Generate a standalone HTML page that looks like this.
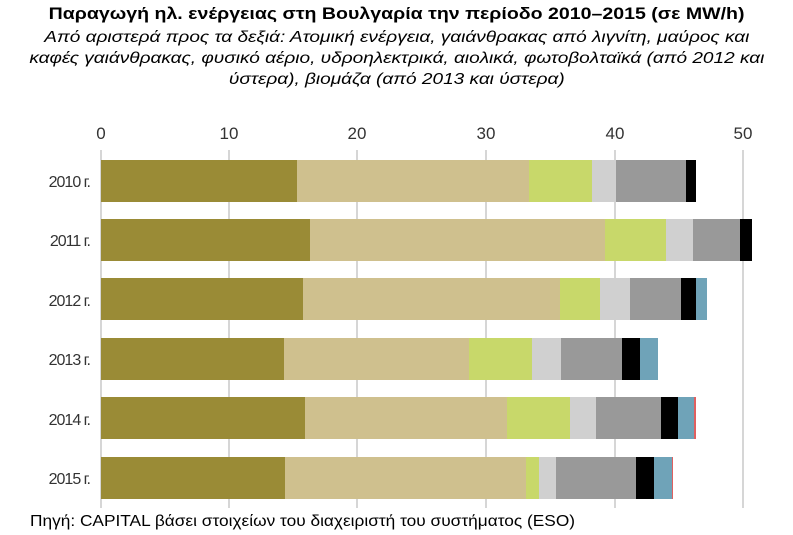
<html><head><style>
body{margin:0;background:#fff;width:793px;height:535px;overflow:hidden;position:relative;font-family:"Liberation Sans",sans-serif}
.t{position:absolute;left:0;width:793px;text-align:center;color:#000}
.t span{display:inline-block;transform-origin:center top}
</style></head><body>
<div class="t" style="top:4px;font-size:17px;font-weight:bold"><span style="transform:scaleX(1.15)">Παραγωγή ηλ. ενέργειας στη Βουλγαρία την περίοδο 2010–2015 (σε MW/h)</span></div>
<div class="t" style="top:27px;font-size:16px;font-style:italic;line-height:21px"><span style="transform:scaleX(1.19)">Από αριστερά προς τα δεξιά: Ατομική ενέργεια, γαιάνθρακας από λιγνίτη, μαύρος και<br>καφές γαιάνθρακας, φυσικό αέριο, υδροηλεκτρικά, αιολικά, φωτοβολταϊκά (από 2012 και<br>ύστερα), βιομάζα (από 2013 και ύστερα)</span></div>
<svg width="793" height="535" style="position:absolute;left:0;top:0" font-family="Liberation Sans, sans-serif">
<g stroke="#c8c8c8" stroke-width="1.5">
<line x1="101" y1="150" x2="101" y2="508"/><line x1="229" y1="150" x2="229" y2="508"/><line x1="357" y1="150" x2="357" y2="508"/><line x1="486" y1="150" x2="486" y2="508"/><line x1="615" y1="150" x2="615" y2="508"/><line x1="743" y1="150" x2="743" y2="508"/>
</g>
<g font-size="17" fill="#333" text-anchor="middle">
<text x="101" y="139">0</text><text x="229" y="139">10</text><text x="357" y="139">20</text><text x="486" y="139">30</text><text x="615" y="139">40</text><text x="743" y="139">50</text>
</g>
<g font-size="16" fill="#333" text-anchor="end" letter-spacing="-1">
<text x="90" y="187">2010 г.</text><text x="90" y="246">2011 г.</text><text x="90" y="306">2012 г.</text><text x="90" y="365">2013 г.</text><text x="90" y="425">2014 г.</text><text x="90" y="484">2015 г.</text>
</g>
<g id="bars"></g>
</svg>
<div style="position:absolute;left:30px;top:513px;font-size:16px;transform:scaleX(1.08);transform-origin:left top;white-space:nowrap">Πηγή: CAPITAL βάσει στοιχείων του διαχειριστή του συστήματος (ESO)</div>
<script>
var cols=["#9a8b36","#cfc08e","#c8d86a","#d0d0d0","#999999","#000000","#6fa3b8","#e06060"];
var rows=[[160,[297,529,592,616,686,696]],[219,[310,605,666,693,740,752]],[278,[303,560,600,630,681,696,707]],[338,[284,469,532,561,622,640,658]],[397,[305,507,570,596,661,678,694,696]],[457,[285,526,539,556,636,654,672,673]]];
var g=document.getElementById("bars"),s="";
rows.forEach(function(r){var x=101;r[1].forEach(function(e,i){s+='<rect x="'+x+'" y="'+r[0]+'" width="'+(e-x)+'" height="42" fill="'+cols[i]+'"/>';x=e;});});
g.innerHTML=s;
</script>
</body></html>
